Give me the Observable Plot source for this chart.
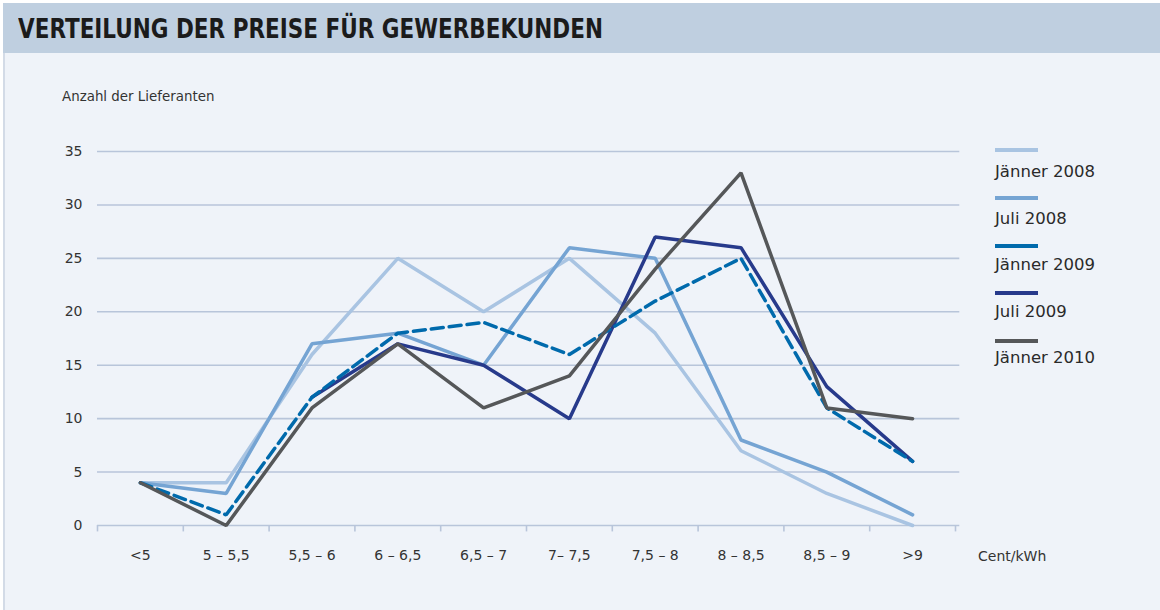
<!DOCTYPE html>
<html>
<head>
<meta charset="utf-8">
<script src="https://cdn.jsdelivr.net/npm/d3@7"></script>
<script src="https://cdn.jsdelivr.net/npm/@observablehq/plot@0.6"></script>
<style>
  html, body { margin: 0; padding: 0; background: #ffffff; }
  #wrap { position: relative; width: 1160px; height: 610px; overflow: hidden; background: #ffffff; font-family: "DejaVu Sans", sans-serif; }
  #header { position: absolute; left: 3px; top: 3px; width: 1157px; height: 50px; background: #bfcfe0; }
  #title { position: absolute; left: 15px; top: 10px; font-family: "DejaVu Sans Condensed", "DejaVu Sans", sans-serif; font-stretch: condensed; font-weight: bold; font-size: 27px; color: #1b1b1b; white-space: nowrap; line-height: 32px; transform-origin: 0 50%; }
  #panel { position: absolute; left: 3px; top: 53px; width: 1157px; height: 557px; background: #eff3f9; border-left: 2px solid #d3dbe7; box-sizing: border-box; }
  #chart { position: absolute; left: 0; top: 53px; }
  #ylabel { position: absolute; left: 62px; top: 89px; font-size: 13.4px; color: #333; white-space: nowrap; }
  #xunit { position: absolute; left: 978px; top: 548px; font-size: 14px; color: #333; white-space: nowrap; }
  .leg-sw { position: absolute; left: 995px; width: 43px; height: 4px; }
  .leg-tx { position: absolute; left: 995px; font-size: 16.5px; color: #2a2a2a; white-space: nowrap; line-height: 20px; }
</style>
</head>
<body>
<div id="wrap">
  <div id="header"><div id="title">VERTEILUNG DER PREISE FÜR GEWERBEKUNDEN</div></div>
  <div id="panel"></div>
  <div id="chart"></div>
  <div id="ylabel">Anzahl der Lieferanten</div>
  <div id="xunit">Cent/kWh</div>
</div>
<script>
// ---- data ----
const categories = ["<5", "5 – 5,5", "5,5 – 6", "6 – 6,5", "6,5 – 7", "7– 7,5", "7,5 – 8", "8 – 8,5", "8,5 – 9", ">9"];
const seriesNames = ["Jänner 2008", "Juli 2008", "Jänner 2009", "Juli 2009", "Jänner 2010"];
const jaenner2008 = [4, 4, 16, 25, 20, 25, 18, 7, 3, 0];
const juli2008    = [4, 3, 17, 18, 15, 26, 25, 8, 5, 1];
const jaenner2009 = [4, 1, 12, 18, 19, 16, 21, 25, 11, 6];
const juli2009    = [null, null, 12, 17, 15, 10, 27, 26, 13, 6];
const jaenner2010 = [4, 0, 11, 17, 11, 14, 24, 33, 11, 10];
const yTicks = [0, 5, 10, 15, 20, 25, 30, 35];
const seriesColors = ["#a9c4e2", "#75a4d3", "#006aac", "#273a8b", "#555759"];

// ---- build ----
const values = [jaenner2008, juli2008, jaenner2009, juli2009, jaenner2010];
const rows = seriesNames.map((name, s) =>
  values[s].map((v, i) => ({series: name, i, value: v == null ? NaN : v})));
const idx = categories.map((_, i) => i);
const bounds = d3.range(categories.length + 1).map(i => i - 0.5);
const drawOrder = [0, 1, 3, 2, 4];

const chart = Plot.plot({
  width: 1160,
  height: 557,
  marginLeft: 97,
  marginRight: 205,
  marginTop: 98,
  marginBottom: 85,
  x: {type: "linear", domain: [-0.5, categories.length - 0.5]},
  y: {domain: [0, 35]},
  style: {background: "transparent", fontFamily: "'DejaVu Sans', sans-serif", fontSize: "14px", color: "#333"},
  marks: [
    Plot.ruleY(yTicks, {x1: -0.5, x2: categories.length - 0.45, stroke: "#b8c5da", strokeWidth: 1.6}),
    Plot.ruleX(bounds, {y1: 0, y2: -0.6, stroke: "#b8c5da", strokeWidth: 1.6}),
    Plot.axisY(yTicks, {tickSize: 0, tickPadding: 15, label: null, fill: "#333"}),
    Plot.axisX(idx, {tickSize: 0, tickPadding: 25, tickFormat: i => categories[i], label: null, fill: "#333"}),
    ...drawOrder.map(s => Plot.line(rows[s], {
      x: "i", y: "value",
      stroke: seriesColors[s],
      strokeWidth: 3.5,
      strokeLinejoin: "miter",
      strokeDasharray: s === 2 ? "12,6" : null
    }))
  ]
});
document.getElementById("chart").appendChild(chart);

// fit the condensed title to the reference width
const title = document.getElementById("title");
const tw = title.getBoundingClientRect().width;
if (tw > 0) title.style.transform = `scaleX(${585 / tw})`;

// ---- legend ----
const wrap = document.getElementById("wrap");
seriesNames.forEach((name, k) => {
  const sw = document.createElement("div");
  sw.className = "leg-sw";
  sw.style.top = (148 + k * 47.8) + "px";
  sw.style.background = seriesColors[k];
  wrap.appendChild(sw);
  const tx = document.createElement("div");
  tx.className = "leg-tx";
  tx.style.top = (162 + k * 46.5) + "px";
  tx.textContent = name;
  wrap.appendChild(tx);
});
</script>
</body>
</html>
